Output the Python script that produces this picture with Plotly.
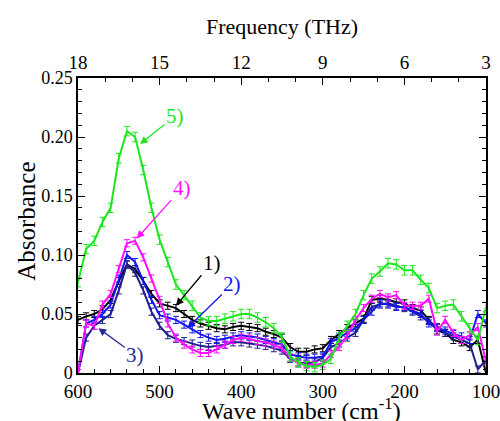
import plotly.graph_objects as go

# Wave numbers (cm^-1)
wn = [600, 590, 580, 570, 560, 550, 540, 530, 520, 510, 500, 490, 480, 470, 460, 450,
      440, 430, 420, 410, 400, 390, 380, 370, 360, 350, 340, 330, 320, 310, 300, 290,
      280, 270, 260, 250, 240, 230, 220, 210, 200, 190, 180, 170, 160, 150, 140, 130,
      120, 110, 100]

s1_black = [0.045, 0.048, 0.050, 0.054, 0.062, 0.078, 0.092, 0.088, 0.078, 0.067, 0.059,
            0.057, 0.055, 0.050, 0.045, 0.042, 0.040, 0.038, 0.037, 0.039, 0.040, 0.039,
            0.038, 0.035, 0.033, 0.030, 0.022, 0.018, 0.018, 0.020, 0.021, 0.028, 0.033,
            0.038, 0.042, 0.046, 0.062, 0.063, 0.062, 0.060, 0.059, 0.055, 0.053, 0.045,
            0.036, 0.034, 0.028, 0.026, 0.022, 0.028, 0.000]
s2_blue = [0.000, 0.042, 0.045, 0.050, 0.058, 0.080, 0.100, 0.094, 0.078, 0.062, 0.049,
           0.047, 0.045, 0.041, 0.037, 0.033, 0.030, 0.028, 0.029, 0.031, 0.032, 0.031,
           0.030, 0.028, 0.026, 0.024, 0.016, 0.014, 0.013, 0.013, 0.014, 0.026, 0.030,
           0.034, 0.038, 0.045, 0.052, 0.059, 0.058, 0.056, 0.056, 0.053, 0.050, 0.042,
           0.038, 0.036, 0.033, 0.031, 0.028, 0.050, 0.042]
s3_navy = [0.000, 0.030, 0.040, 0.045, 0.050, 0.070, 0.092, 0.085, 0.070, 0.052, 0.040,
           0.032, 0.029, 0.027, 0.025, 0.023, 0.022, 0.023, 0.024, 0.026, 0.026, 0.025,
           0.024, 0.023, 0.021, 0.019, 0.012, 0.009, 0.008, 0.009, 0.013, 0.022, 0.025,
           0.030, 0.034, 0.045, 0.056, 0.058, 0.059, 0.057, 0.055, 0.052, 0.048, 0.044,
           0.039, 0.034, 0.031, 0.028, 0.025, 0.003, 0.011]
s4_magenta = [0.000, 0.042, 0.040, 0.058, 0.067, 0.088, 0.110, 0.112, 0.098, 0.080, 0.062,
              0.042, 0.030, 0.024, 0.020, 0.017, 0.017, 0.020, 0.024, 0.028, 0.030, 0.029,
              0.027, 0.026, 0.024, 0.021, 0.013, 0.008, 0.007, 0.007, 0.008, 0.016, 0.022,
              0.032, 0.045, 0.055, 0.063, 0.067, 0.064, 0.066, 0.057, 0.057, 0.057, 0.063,
              0.035, 0.045, 0.034, 0.028, 0.032, 0.039, 0.010]
s5_green = [0.077, 0.105, 0.112, 0.128, 0.140, 0.182, 0.205, 0.200, 0.172, 0.140, 0.113,
            0.094, 0.075, 0.066, 0.057, 0.047, 0.044, 0.044, 0.046, 0.048, 0.050, 0.050,
            0.047, 0.043, 0.038, 0.030, 0.014, 0.009, 0.006, 0.005, 0.007, 0.012, 0.030,
            0.040, 0.050, 0.066, 0.080, 0.086, 0.093, 0.092, 0.087, 0.087, 0.079, 0.072,
            0.055, 0.057, 0.058, 0.048, 0.038, 0.028, 0.056]

err_black = 0.003
err_blue = 0.003
err_navy = 0.003
err_magenta = 0.003
err_green = 0.004

x_ticks = [600, 500, 400, 300, 200, 100]
y_ticks = [0, 0.05, 0.10, 0.15, 0.20, 0.25]
y_labels = ["0", "0.05", "0.10", "0.15", "0.20", "0.25"]
thz_ticks = [18, 15, 12, 9, 6, 3]

FONT = "Liberation Serif, Times New Roman, Times, serif"

series = [
    (s1_black, err_black, "#000000"),
    (s3_navy, err_navy, "#1e1e8c"),
    (s2_blue, err_blue, "#1414f0"),
    (s4_magenta, err_magenta, "#ff10ff"),
    (s5_green, err_green, "#1ee61e"),
]

fig = go.Figure()
for vals, err, col in series:
    fig.add_trace(go.Scatter(
        x=wn, y=vals, mode="lines",
        line=dict(color=col, width=2),
        error_y=dict(type="constant", value=err, color=col, thickness=1, width=3),
        showlegend=False, hoverinfo="skip"))

# invisible trace to activate the frequency axis
fig.add_trace(go.Scatter(x=[thz_ticks[0], thz_ticks[-1]], y=[0, 0], xaxis="x2",
                         mode="markers", marker=dict(opacity=0), showlegend=False,
                         hoverinfo="skip"))

def axis_common(size):
    return dict(showgrid=False, zeroline=False, showline=True, linecolor="black",
                linewidth=1.5, ticks="inside", ticklen=7, tickwidth=1.2,
                tickcolor="black", automargin=False, ticklabeloverflow="allow",
                tickfont=dict(family=FONT, size=size, color="black"))

fig.update_layout(
    width=500, height=421,
    margin=dict(l=78, r=14, t=78, b=48),
    paper_bgcolor="white", plot_bgcolor="white",
    xaxis=dict(range=[600, 100], tickvals=x_ticks,
               minor=dict(ticks="inside", dtick=20, ticklen=4, tickcolor="black"),
               **axis_common(19)),
    xaxis2=dict(range=[18, 3], tickvals=thz_ticks, overlaying="x", side="top",
                minor=dict(ticks="inside", dtick=1, ticklen=4, tickcolor="black"),
                **axis_common(19)),
    yaxis=dict(range=[0, 0.25], tickvals=y_ticks, ticktext=y_labels, mirror="ticks",
               minor=dict(ticks="inside", dtick=0.01, ticklen=4, tickcolor="black"),
               **axis_common(18)),
)

# axis titles
fig.add_annotation(xref="paper", yref="paper", x=0.549, y=-0.121,
                   text="Wave number (cm<sup>-1</sup>)", showarrow=False,
                   xanchor="center", yanchor="middle",
                   font=dict(family=FONT, size=24, color="black"))
fig.add_annotation(xref="paper", yref="paper", x=0.5, y=1.173,
                   text="Frequency (THz)", showarrow=False,
                   xanchor="center", yanchor="middle",
                   font=dict(family=FONT, size=22, color="black"))
fig.add_annotation(xref="paper", yref="paper", x=-0.128, y=0.515,
                   text="Absorbance", showarrow=False, textangle=-90,
                   xanchor="center", yanchor="middle",
                   font=dict(family=FONT, size=25, color="black"))

labels = [
    # (tip wn, tip val, label dx px, label dy px, text, color)
    (524, 0.194, 35, -28, "5)", "#1ee61e"),
    (528, 0.114, 45, -50, "4)", "#ff10ff"),
    (480, 0.057, 36, -43, "1)", "#000000"),
    (466, 0.038, 45, -44, "2)", "#1414f0"),
    (575, 0.038, 37, 27, "3)", "#2a2a96"),
]
for tx, ty, ax, ay, txt, col in labels:
    fig.add_annotation(x=tx, y=ty, ax=ax, ay=ay, text=txt, showarrow=True,
                       arrowhead=2, arrowsize=1.2, arrowwidth=1.3, arrowcolor=col,
                       font=dict(family=FONT, size=21, color=col))

# remove the default page margin so the 500x421 figure fills the window exactly
fig.write_html("out.html",
               config={"displayModeBar": False},
               post_script="document.body.style.margin='0px';"
                           "document.body.style.overflow='hidden';")
